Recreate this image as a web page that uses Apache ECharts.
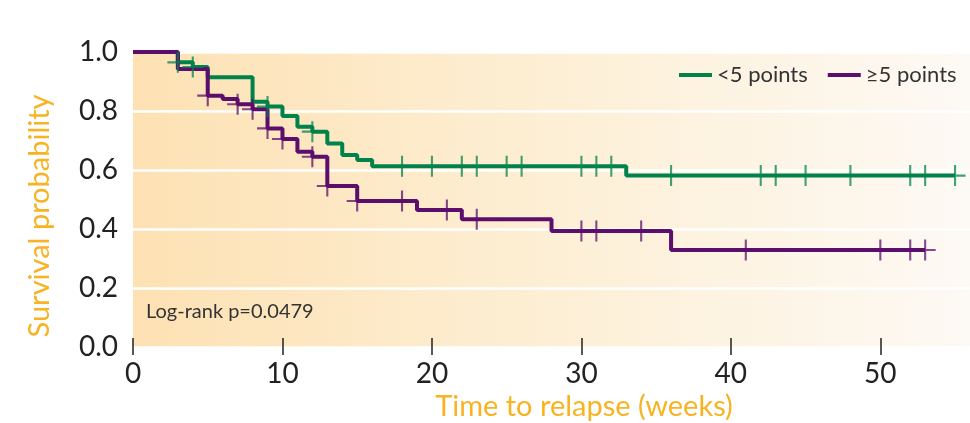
<!DOCTYPE html>
<html>
<head>
<meta charset="utf-8">
<script src="https://cdn.jsdelivr.net/npm/echarts@6/dist/echarts.min.js"></script>
<style>
  html, body { margin: 0; padding: 0; background: #fff; }
  #chart { width: 970px; height: 423px; }
</style>
</head>
<body>
<div id="chart"></div>
<script>
// Kaplan-Meier steps (weeks, survival)
const lowTimes = [0, 3, 4, 5, 8, 9, 10, 11, 12, 13, 14, 15, 16, 33, 55]
const lowSurv = [1.0, 0.965, 0.949, 0.914, 0.831, 0.815, 0.783, 0.747, 0.730, 0.690, 0.651, 0.634, 0.613, 0.581, 0.581]
const lowCensor = [3, 4, 9, 12, 18, 20, 22, 23, 25, 26, 30, 31, 32, 36, 42, 43, 45, 48, 52, 53, 55]

const highTimes = [0, 3, 5, 6, 7, 8, 9, 10, 11, 12, 13, 15, 19, 22, 28, 36, 53]
const highSurv = [1.0, 0.942, 0.852, 0.841, 0.823, 0.806, 0.741, 0.705, 0.662, 0.645, 0.546, 0.495, 0.464, 0.433, 0.393, 0.329, 0.329]
const highCensor = [5, 7, 8, 9, 10, 12, 13, 15, 18, 21, 23, 30, 31, 34, 41, 50, 52, 53]

const seriesNames = ['<5 points', '≥5 points']
const xTicks = [0, 10, 20, 30, 40, 50]
const yTicks = [0.0, 0.2, 0.4, 0.6, 0.8, 1.0]

const GREEN = '#00834b'
const PURPLE = '#5b0e6b'
const ORANGE = '#f8b323'
const FONT = 'Lato'

const toPairs = (xs, ys) => xs.map((x, i) => [x, ys[i]])
// level of the step curve at time t
const levelAt = (xs, ys, t) => {
    let v = ys[0]
    xs.forEach((x, i) => { if (x <= t) v = ys[i] })
    return v
}
const censorPoints = (cs, xs, ys) => cs.map(t => [t, levelAt(xs, ys, t)])

const plus = 'path://M9,0h2v9h9v2h-9v9h-2v-9h-9v-2h9z'

const myChart = echarts.init(document.getElementById('chart'))
const option = {
    animation: false,
    textStyle: { fontFamily: FONT },
    grid: {
        left: 133,
        top: 52,
        width: 840,
        height: 295,
        show: true,
        borderWidth: 0,
        backgroundColor: {
            type: 'linear', x: 0, y: 0, x2: 1, y2: 0,
            colorStops: [
                { offset: 0, color: '#fde1b3' },
                { offset: 0.5, color: '#fdefd5' },
                { offset: 1, color: '#fdf9f4' }
            ]
        }
    },
    legend: {
        data: seriesNames,
        left: 674,
        top: 59,
        icon: 'rect',
        itemWidth: 33,
        itemHeight: 4,
        itemGap: 20,
        textStyle: { fontFamily: FONT, fontSize: 22, color: '#333' }
    },
    xAxis: {
        type: 'value',
        min: 0,
        max: 56,
        interval: 10,
        offset: -9,
        axisLine: { show: false },
        axisTick: { show: true, length: 17, lineStyle: { color: '#222', width: 1.5 } },
        splitLine: { show: false },
        axisLabel: {
            margin: 22,
            fontSize: 28,
            color: '#222',
            fontFamily: FONT,
            showMaxLabel: false,
            formatter: v => xTicks.indexOf(v) > -1 ? String(v) : ''
        }
    },
    yAxis: {
        type: 'value',
        min: 0,
        max: 1,
        interval: 0.2,
        axisLine: { show: false },
        axisTick: { show: false },
        splitLine: { show: true, lineStyle: { color: '#ffffff', width: 2.5 } },
        axisLabel: {
            margin: 15,
            fontSize: 28,
            color: '#222',
            fontFamily: FONT,
            formatter: v => yTicks.find(t => Math.abs(t - v) < 1e-6).toFixed(1)
        }
    },
    graphic: [
        {
            type: 'text',
            left: 'center',
            top: -19,
            style: { text: 'Relapse-free survival by baseline rating score category', fill: '#1a9c64', font: 'bold 19px Lato' }
        },
        {
            type: 'text',
            x: 40,
            y: 216,
            rotation: Math.PI / 2,
            style: { text: 'Survival probability', fill: ORANGE, font: '29px Lato', align: 'center', verticalAlign: 'middle' }
        },
        {
            type: 'text',
            x: 584,
            y: 407,
            style: { text: 'Time to relapse (weeks)', fill: ORANGE, font: '29px Lato', align: 'center', verticalAlign: 'middle' }
        },
        {
            type: 'text',
            x: 146,
            y: 312,
            style: { text: 'Log-rank p=0.0479', fill: '#333', font: '20px Lato', verticalAlign: 'middle' }
        }
    ],
    series: [
        {
            name: seriesNames[0],
            type: 'line',
            step: 'end',
            showSymbol: false,
            lineStyle: { color: GREEN, width: 4 },
            itemStyle: { color: GREEN },
            data: toPairs(lowTimes, lowSurv),
            z: 2
        },
        {
            name: seriesNames[1],
            type: 'line',
            step: 'end',
            showSymbol: false,
            lineStyle: { color: PURPLE, width: 4 },
            itemStyle: { color: PURPLE },
            data: toPairs(highTimes, highSurv),
            z: 3
        },
        {
            name: 'censor-low',
            type: 'scatter',
            symbol: plus,
            symbolSize: 21,
            itemStyle: { color: GREEN, opacity: 0.75 },
            data: censorPoints(lowCensor, lowTimes, lowSurv),
            z: 4
        },
        {
            name: 'censor-high',
            type: 'scatter',
            symbol: plus,
            symbolSize: 21,
            itemStyle: { color: PURPLE, opacity: 0.75 },
            data: censorPoints(highCensor, highTimes, highSurv),
            z: 4
        }
    ]
}
myChart.setOption(option)
</script>
</body>
</html>
